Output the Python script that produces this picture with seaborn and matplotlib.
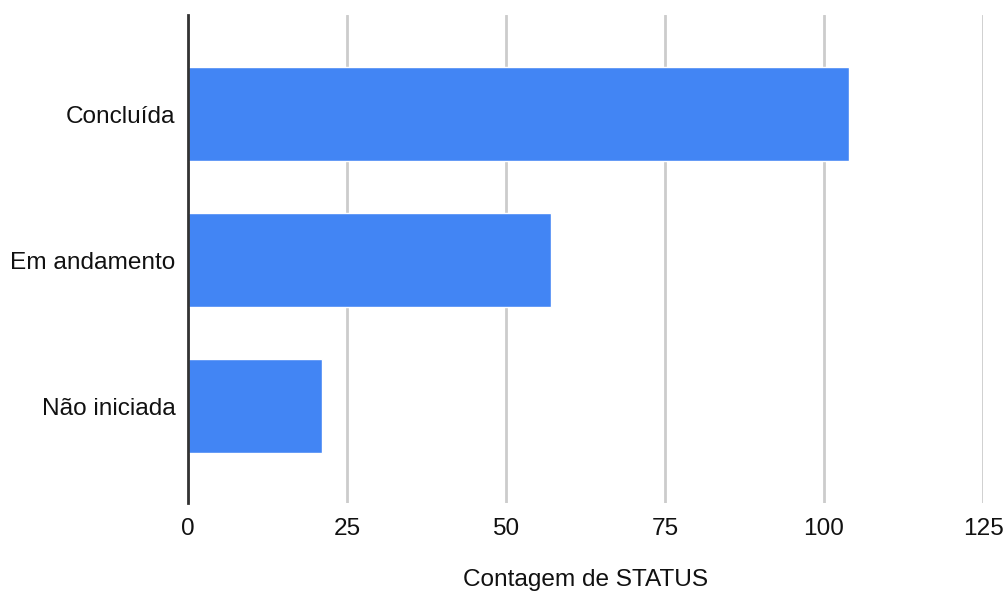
import pandas as pd
import matplotlib.pyplot as plt
import seaborn as sns

# dados
status = ["Concluída", "Em andamento", "Não iniciada"]
contagem = [104, 57, 21]
xticks = [0, 25, 50, 75, 100, 125]

df = pd.DataFrame({"STATUS": status, "Contagem": contagem})

sns.set_style("white")
plt.rcParams["font.family"] = ["Liberation Sans", "DejaVu Sans"]

fig = plt.figure(figsize=(10.07, 5.93), dpi=100)
ax = fig.add_axes([0.1867, 0.152, 0.7895, 0.823])

sns.barplot(data=df, x="Contagem", y="STATUS", color="#4285F4",
            saturation=1, width=0.644, ax=ax)

ax.set_xlim(0, 125)
ax.set_ylim(2.66, -0.68)
ax.set_xticks(xticks)
ax.set_xticklabels([str(t) for t in xticks])

ax.grid(axis="x", color="#cccccc", linewidth=2)
ax.set_axisbelow(True)
for s in ["top", "right", "bottom"]:
    ax.spines[s].set_visible(False)
ax.spines["left"].set_color("#333333")
ax.spines["left"].set_linewidth(2)
ax.spines["left"].set_zorder(5)

ax.tick_params(axis="both", length=0, labelsize=17.6, colors="#111111")
ax.tick_params(axis="y", pad=9)
ax.tick_params(axis="x", pad=11)

ax.set_ylabel("")
ax.set_xlabel("Contagem de STATUS", fontsize=17.6, color="#111111", labelpad=21)

plt.savefig("out.png", dpi=100)
